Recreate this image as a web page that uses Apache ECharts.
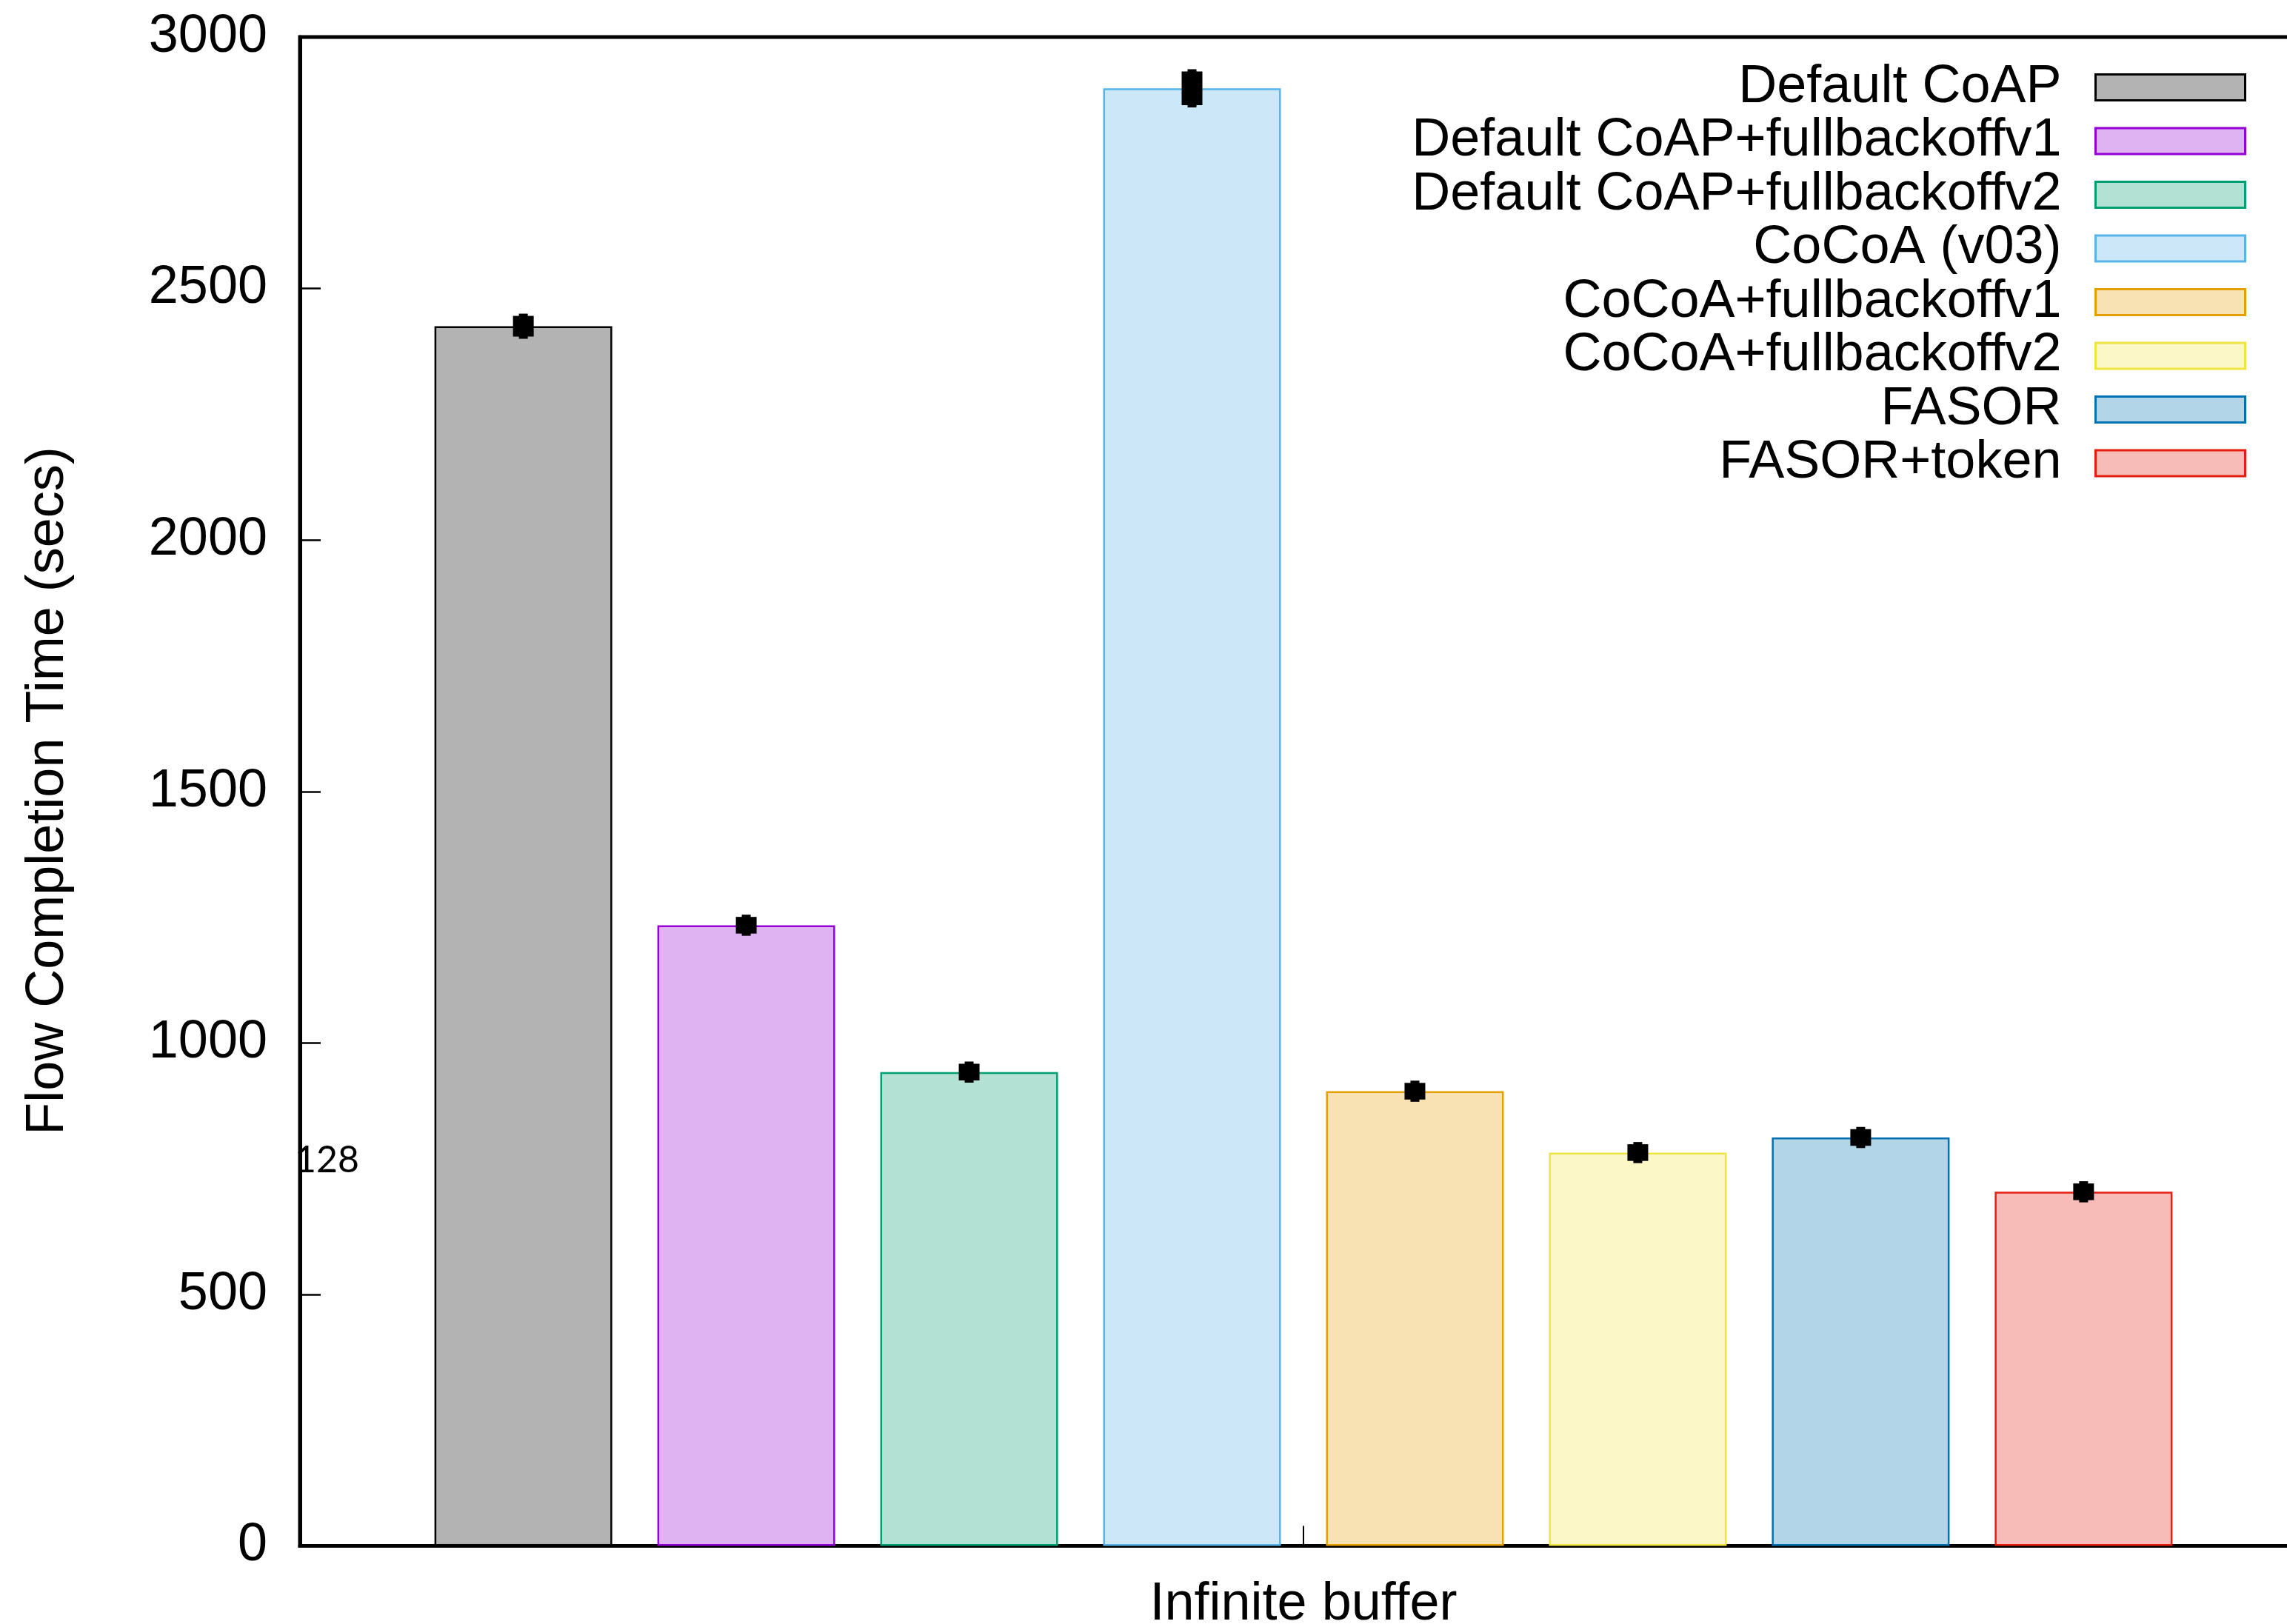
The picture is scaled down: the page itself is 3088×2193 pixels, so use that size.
<!DOCTYPE html>
<html>
<head>
<meta charset="utf-8">
<title>Flow Completion Time</title>
<script src="https://cdn.jsdelivr.net/npm/echarts@6/dist/echarts.min.js"></script>
<style>
  html, body { margin: 0; padding: 0; background: #ffffff; }
  #chart { width: 3088px; height: 2193px; }
</style>
</head>
<body>
<div id="chart"></div>
<script>
// Data
const categories = ['Infinite buffer'];
const seriesNames = [
  'Default CoAP',
  'Default CoAP+fullbackoffv1',
  'Default CoAP+fullbackoffv2',
  'CoCoA (v03)',
  'CoCoA+fullbackoffv1',
  'CoCoA+fullbackoffv2',
  'FASOR',
  'FASOR+token'
];
const meanValues = [2425, 1234, 942, 2898, 904, 782, 812, 704];
const errorValues = [25, 21, 21, 38, 21, 21, 21, 21];
const yTicks = [0, 500, 1000, 1500, 2000, 2500, 3000];
const sideNote = '128';

// Styling: outline colours and their 30% tints used as fills
const lineColors = ['#000000', '#9400d3', '#009e73', '#56b4e9', '#e69f00', '#f0e442', '#0072b2', '#e51e10'];
const fillColors = ['#b3b3b3', '#dfb3f2', '#b3e2d5', '#cce8f8', '#f8e2b3', '#fbf7c6', '#b3d5e8', '#f7bcb7'];

const FONT = '"Liberation Sans", Arial, Helvetica, sans-serif';
const BAR_WIDTH = 240;
const BAR_GAP = '25.4%';

const chart = echarts.init(document.getElementById('chart'), null, { renderer: 'canvas' });

const barSeries = seriesNames.map((name, i) => ({
  type: 'bar',
  name: name,
  data: [meanValues[i]],
  barWidth: BAR_WIDTH,
  barGap: BAR_GAP,
  itemStyle: {
    color: fillColors[i],
    borderColor: lineColors[i],
    borderWidth: 2.5
  },
  emphasis: { disabled: true },
  z: 2
}));

// Error bars: a thin stem over the full range with a heavy block inside it,
// positioned over each bar with the same bar layout on the category axis
const errorSeries = {
  type: 'custom',
  data: meanValues.map((m, i) => [0, m, errorValues[i], i]),
  encode: { x: 0, y: 1 },
  z: 5,
  silent: true,
  renderItem: function (params, api) {
    const layout = api.barLayout({ barWidth: BAR_WIDTH, barGap: BAR_GAP, count: seriesNames.length });
    const idx = api.value(3);
    const center = api.coord([api.value(0), api.value(1)]);
    const x = center[0] + layout[idx].offsetCenter;
    const yHigh = api.coord([api.value(0), api.value(1) + api.value(2)])[1];
    const yLow = api.coord([api.value(0), api.value(1) - api.value(2)])[1];
    const inset = 3;
    return {
      type: 'group',
      children: [
        { type: 'rect', shape: { x: x - 6, y: yHigh, width: 12, height: yLow - yHigh },
          style: { fill: '#000000' } },
        { type: 'rect', shape: { x: x - 14, y: yHigh + inset, width: 28, height: yLow - yHigh - 2 * inset },
          style: { fill: '#000000' } }
      ]
    };
  }
};

const option = {
  backgroundColor: '#ffffff',
  animation: false,
  grid: {
    left: 405,
    top: 50,
    width: 2710,
    bottom: 105.5,
    outerBoundsMode: 'none',
    containLabel: false,
    show: true,
    borderColor: '#000000',
    borderWidth: 5,
    backgroundColor: 'transparent'
  },
  xAxis: {
    type: 'category',
    data: categories,
    axisLine: { show: true, lineStyle: { color: '#000000', width: 5 } },
    axisTick: { show: true, inside: true, alignWithLabel: true, length: 27, lineStyle: { color: '#000000', width: 2 } },
    axisLabel: { fontSize: 72, fontFamily: FONT, color: '#000000', margin: 44 },
    splitLine: { show: false }
  },
  yAxis: {
    type: 'value',
    min: yTicks[0],
    max: yTicks[yTicks.length - 1],
    interval: yTicks[1] - yTicks[0],
    axisLine: { show: true, lineStyle: { color: '#000000', width: 5 } },
    axisTick: { show: true, inside: true, length: 28, lineStyle: { color: '#000000', width: 2.5 } },
    axisLabel: {
      fontSize: 72, fontFamily: FONT, color: '#000000', margin: 44,
      formatter: function (v) { return String(v); }
    },
    splitLine: { show: false }
  },
  legend: {
    data: seriesNames,
    orient: 'vertical',
    right: 55,
    top: 82,
    padding: 0,
    align: 'right',
    icon: 'rect',
    itemWidth: 202,
    itemHeight: 35,
    itemGap: 0.5,
    selectedMode: false,
    itemStyle: { borderWidth: 3 },
    textStyle: { fontSize: 72, fontFamily: FONT, color: '#000000', padding: [0, 41, 0, 0] }
  },
  graphic: [
    {
      type: 'text',
      x: 65,
      y: 1068,
      rotation: Math.PI / 2,
      style: {
        text: 'Flow Completion Time (secs)',
        font: '72px ' + FONT,
        fill: '#000000',
        align: 'center',
        verticalAlign: 'middle'
      }
    },
    {
      type: 'text',
      x: 398,
      y: 1567,
      z: 10,
      style: {
        text: sideNote,
        font: '50px Lato, "Open Sans", sans-serif',
        fill: '#000000',
        align: 'left',
        verticalAlign: 'middle'
      }
    }
  ],
  series: barSeries.concat([errorSeries])
};

chart.setOption(option);
</script>
</body>
</html>
